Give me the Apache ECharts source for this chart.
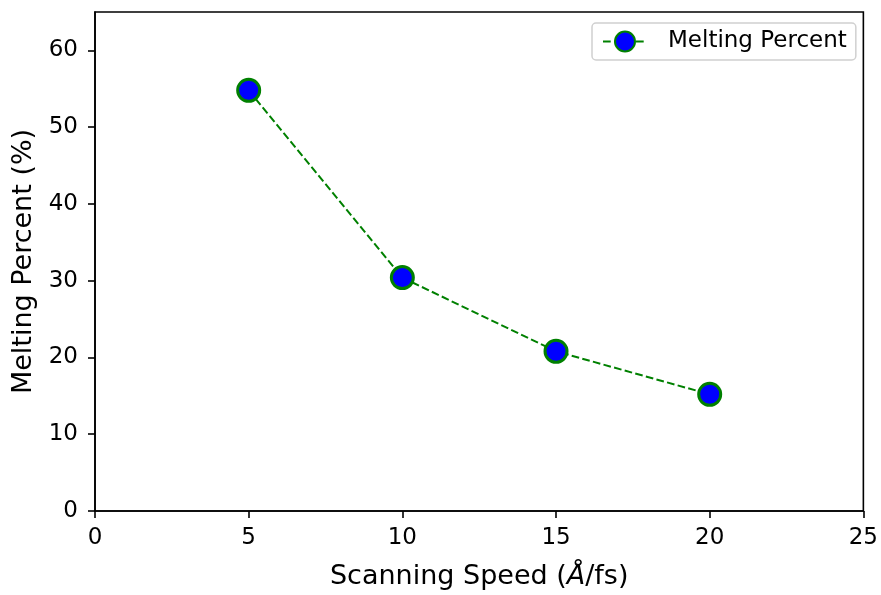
<!DOCTYPE html>
<html>
<head>
<meta charset="utf-8">
<script src="https://cdn.jsdelivr.net/npm/echarts@6/dist/echarts.min.js"></script>
<style>
  html, body { margin: 0; padding: 0; background: #fff; }
  #chart { width: 881px; height: 595px; }
</style>
</head>
<body>
<div id="chart"></div>
<script>
// Scanning speed (Å/fs) vs. melting percent
const speeds = [5, 10, 15, 20];
const meltingPercent = [54.8, 30.4, 20.8, 15.2];
const xTicks = [0, 5, 10, 15, 20, 25];
const yTicks = [0, 10, 20, 30, 40, 50, 60];

const FONT = 'DejaVu Sans';
const chart = echarts.init(document.getElementById('chart'), null, { renderer: 'canvas' });

chart.setOption({
  animation: false,
  backgroundColor: '#ffffff',
  grid: {
    left: 95, right: 16, top: 12, bottom: 83,
    show: true, borderColor: '#000', borderWidth: 1.6, backgroundColor: 'transparent'
  },
  legend: {
    left: 592, top: 23,
    padding: [7, 9, 7, 10],
    borderColor: '#d0d0d0', borderWidth: 1.5, borderRadius: 4,
    backgroundColor: 'rgba(255,255,255,0.8)',
    itemWidth: 44, itemHeight: 25,
    textStyle: { fontFamily: FONT, fontSize: 23, color: '#000', padding: [0, 0, 0, 16] },
    data: ['Melting Percent']
  },
  xAxis: {
    type: 'value', min: 0, max: 25, interval: 5,
    name: 'Scanning Speed ({i|Å}/fs)',
    nameLocation: 'middle', nameGap: 52,
    nameTextStyle: {
      fontFamily: FONT, fontSize: 27, color: '#000',
      rich: { i: { fontFamily: FONT, fontSize: 27, fontStyle: 'italic', color: '#000' } }
    },
    axisLine: { show: true, lineStyle: { color: '#000', width: 1.6 } },
    axisTick: { show: true, inside: false, length: 7, lineStyle: { color: '#000', width: 1.6 }, customValues: xTicks },
    axisLabel: { fontFamily: FONT, fontSize: 23, color: '#000', margin: 16, customValues: xTicks },
    splitLine: { show: false }
  },
  yAxis: {
    type: 'value', min: 0, max: 65, interval: 10,
    name: 'Melting Percent (%)',
    nameLocation: 'middle', nameGap: 56,
    nameTextStyle: { fontFamily: FONT, fontSize: 27, color: '#000' },
    axisLine: { show: true, lineStyle: { color: '#000', width: 1.6 } },
    axisTick: { show: true, inside: false, length: 7, lineStyle: { color: '#000', width: 1.6 }, customValues: yTicks },
    axisLabel: { fontFamily: FONT, fontSize: 23, color: '#000', margin: 17, customValues: yTicks },
    splitLine: { show: false }
  },
  series: [{
    name: 'Melting Percent',
    type: 'line',
    data: speeds.map((s, i) => [s, meltingPercent[i]]),
    symbol: 'circle',
    symbolSize: 22,
    itemStyle: { color: '#0000ff', borderColor: '#008000', borderWidth: 3 },
    lineStyle: { color: '#008000', width: 2, type: [7.7, 3.3] },
    z: 3
  }]
});
</script>
</body>
</html>
